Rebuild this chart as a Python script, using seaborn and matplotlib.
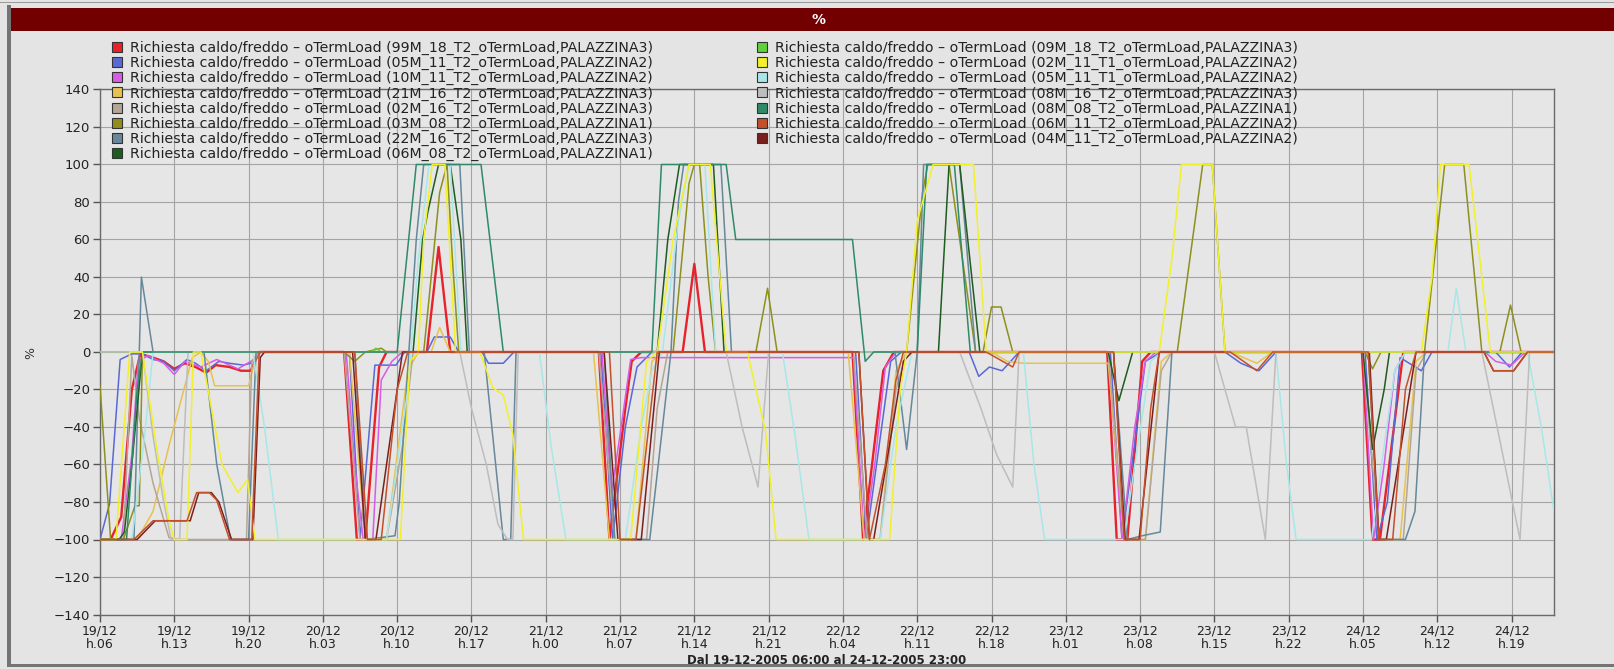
import numpy as np
import pandas as pd
import matplotlib
matplotlib.use("Agg")
import matplotlib.pyplot as plt
from matplotlib.patches import Rectangle, Patch
import seaborn as sns

W, H = 1614, 669

# ---- series (vertices: hours from 19-12-2005 06:00, value in %) ----
r99_h = [0, 1.0, 2.0, 3.0, 3.8, 5.0, 6.0, 7.0, 8.0, 9.0, 10.0, 10.9, 12.2, 13.3, 14.2, 15.0,
         23.0, 24.2, 25.0, 26.3, 27.0, 30.8, 31.9, 33.0, 47.0, 48.0, 49.5, 50.1, 51.0, 54.9, 56.0, 57.0,
         70.9, 71.9, 73.8, 74.8, 94.9, 95.8, 96.8, 98.2, 99.0, 118.9, 119.9, 120.6, 122.8, 137]
r99_v = [-100, -100, -88, -20, -1, -3, -5, -9, -6, -8, -11, -7, -8, -10, -10, 0,
         0, -100, -100, -8, 0, 0, 56, 0, 0, -100, -30, -5, 0, 0, 47, 0,
         0, -100, -10, 0, 0, -100, -100, -5, 0, 0, -100, -100, 0, 0]

b05_h = [0, 0.9, 1.9, 3.0, 4.0, 5.0, 6.0, 7.0, 8.2, 9.0, 10.0, 11.2, 12.2, 13.5, 14.2, 15.0,
         23.5, 24.5, 25.9, 27.9, 28.7, 30.8, 31.5, 33.0, 33.8, 36.0, 36.6, 38.0, 39.0,
         47.2, 48.3, 49.5, 50.6, 52.0, 71.2, 72.2, 74.5, 75.5, 81.9, 82.8, 83.8, 85.0, 86.6,
         95.2, 96.3, 98.5, 100.0, 106.0, 107.5, 109.2, 110.8, 119.2, 120.3, 121.3, 122.5,
         124.5, 125.5, 131.5, 132.8, 134.0, 137]
b05_v = [-100, -81, -4, -1, -1, -4, -5, -10, -4, -6, -10, -5, -6, -7, -6, 0,
         0, -100, -7, -7, 0, 0, 8, 8, 0, 0, -6, -6, 0,
         0, -100, -40, -8, 0, 0, -100, -5, 0, 0, -13, -8, -10, 0,
         0, -100, -5, 0, 0, -6, -10, 0, 0, -100, -80, -3,
         -10, 0, 0, -8, 0, 0]

m10_h = [0, 2.0, 3.0, 3.6, 4.5, 6.0, 7.0, 8.0, 9.5, 11.0, 13.0, 14.5, 15.2,
         23.2, 24.0, 24.8, 25.7, 26.5, 27.5, 28.5, 47.3, 48.2, 49.0, 50.0, 51.0, 71.0, 72.0,
         73.0, 74.0, 75.0, 95.0, 96.3, 97.5, 98.5, 99.5, 119.0, 120.0, 121.0, 122.0, 123.0,
         130.5, 131.5, 133.0, 134.3, 137]
m10_v = [-100, -100, -55, -5, -2, -6, -12, -5, -8, -4, -9, -4, 0,
         0, -60, -100, -100, -15, -5, 0, 0, -75, -44, -4, -3, -3, -100,
         -60, -8, 0, 0, -100, -40, -5, 0, 0, -100, -60, -10, 0,
         0, -5, -7, 0, 0]

g21_h = [0, 3.5, 5.0, 6.5, 8.7, 9.5, 10.2, 10.8, 14.0, 14.8, 23.5, 25.0, 27.0, 29.0, 30.0,
         31.2, 32.0, 33.0, 46.5, 48.0, 50.5, 52.0, 53.0, 70.5, 72.0, 73.5, 75.0, 76.0, 84.0,
         85.5, 87.0, 95.0, 96.5, 98.5, 100.0, 101.0, 106.5, 109.0, 110.5, 119.5, 120.5, 122.5,
         124.0, 125.0, 137]
g21_v = [-100, -100, -85, -50, -3, 0, -5, -18, -18, 0, 0, -100, -100, -10, 0,
         0, 13, 0, 0, -100, -100, -5, 0, 0, -100, -100, -10, 0, 0,
         -5, -6, -6, -100, -100, -5, 0, 0, -6, 0, 0, -100, -100,
         -5, 0, 0]

t02_h = [0, 2.2, 3.0, 3.7, 5.0, 6.5, 7.5, 13.8, 14.3, 15.0, 23.0, 24.5, 27.0, 28.5, 29.5,
         47.0, 48.5, 51.5, 52.5, 53.5, 71.0, 72.3, 73.5, 75.0, 76.0, 95.0, 96.5, 98.5, 100.0,
         101.0, 119.0, 120.5, 122.8, 124.0, 125.0, 137]
t02_v = [-100, -100, -2, -35, -70, -99, -100, -100, -5, 0, 0, -100, -100, -50, 0,
         0, -100, -100, -30, 0, 0, -100, -100, -20, 0, 0, -100, -100, -10,
         0, 0, -100, -100, -10, 0, 0]

o03_h = [0, 1.0, 2.2, 3.3, 3.7, 4.0, 23.0, 24.0, 25.0, 26.5, 27.0, 30.5, 32.0, 32.7, 33.2,
         33.8, 54.0, 55.5, 56.0, 56.5, 57.3, 58.0, 61.8, 62.9, 63.8, 76.0, 77.5, 78.0, 80.0,
         82.5, 83.2, 84.0, 84.9, 86.0, 101.5, 103.9, 104.8, 106.0, 119.2, 119.9, 120.7, 124.8,
         126.7, 128.5, 130.2, 131.9, 132.9, 133.9, 137]
o03_v = [-18, -100, -100, -82, -82, 0, 0, -5, 0, 2, 0, 0, 85, 100, 50,
         0, 0, 90, 100, 100, 40, 0, 0, 34, 0, 0, 85, 100, 100,
         0, 0, 24, 24, 0, 0, 100, 100, 0, 0, -9, 0, 0,
         100, 100, 0, 0, 25, 0, 0]

s22_h = [0, 3.2, 3.9, 5.0, 9.8, 11.0, 12.3, 14.0, 14.7, 24.0, 25.0, 27.8, 28.2, 29.1, 29.8,
         30.5, 33.9, 34.8, 36.2, 38.0, 38.7, 39.2, 47.5, 48.5, 51.8, 53.8, 54.5, 55.0, 58.5,
         59.5, 74.9, 76.0, 77.0, 77.6, 81.0, 82.5, 95.5, 96.8, 98.2, 99.9, 101.0, 119.5, 120.5,
         123.0, 123.9, 124.8, 137]
s22_v = [-100, -100, 40, 0, 0, -60, -100, -100, 0, 0, -100, -98, -80, 0, 60,
         100, 100, 0, 0, -100, -100, 0, 0, -100, -100, 0, 80, 100, 100,
         0, 0, -52, 0, 100, 100, 0, 0, -100, -98, -96, 0, 0, -100,
         -100, -85, 0, 0]

d06_h = [0, 1.8, 2.3, 3.0, 3.5, 4.0, 29.5, 30.4, 30.9, 31.9, 33.0, 34.0, 34.6, 52.5, 53.5,
         54.6, 57.8, 58.8, 79.0, 80.0, 81.0, 82.9, 95.0, 96.0, 97.3, 119.0, 119.9, 121.0,
         121.5, 137]
d06_v = [-100, -100, -96, -60, -30, 0, 0, 60, 75, 100, 100, 60, 0, 0, 60,
         100, 100, 0, 0, 100, 100, 0, 0, -26, 0, 0, -52, -20,
         0, 0]

l09_h = [0, 25.5, 26.0, 26.5, 137]
l09_v = [0, 0, 2, 0, 0]

y02_h = [0, 1.5, 2.8, 4.0, 5.3, 6.5, 7.0, 8.2, 8.8, 9.5, 10.5, 11.5, 13.0, 13.9, 14.6, 28.3,
         29.2, 30.0, 30.5, 31.3, 32.5, 33.5, 35.8, 37.0, 38.0, 38.9, 39.9, 50.0, 51.5, 52.5,
         54.0, 55.5, 57.5, 59.0, 61.0, 62.7, 63.7, 74.4, 75.4, 76.0, 77.0, 78.5, 82.3, 83.5,
         99.8, 101.0, 101.9, 104.8, 106.0, 124.5, 125.5, 126.3, 129.0, 131.0, 137]
y02_v = [-100, -100, 0, 0, -50, -90, -100, -100, 0, 0, -30, -60, -75, -68, -100, -100,
         -5, 0, 60, 100, 100, 0, 0, -19, -23, -44, -100, -100, -5, 0,
         60, 100, 100, 0, 0, -42, -100, -100, -20, 0, 70, 100, 100, 0,
         0, 50, 100, 100, 0, 0, 40, 100, 100, 0, 0]

c05_h = [0, 3.0, 4.2, 5.0, 14.4, 15.5, 16.8, 27.0, 29.0, 30.0, 31.0, 33.0, 34.0, 41.4, 42.5,
         43.9, 49.5, 51.0, 52.0, 53.0, 54.5, 55.5, 57.0, 58.0, 64.3, 65.5, 66.8, 73.5, 75.0,
         76.5, 87.0, 88.0, 89.0, 96.5, 97.5, 99.0, 100.0, 110.8, 111.8, 112.7, 119.8, 121.0,
         122.0, 123.0, 127.0, 127.8, 128.7, 134.5, 135.8, 137]
c05_v = [-100, -100, -45, 0, 0, -40, -100, -100, -20, 50, 100, 100, 0, 0, -50,
         -100, -100, -40, -10, 0, 70, 100, 100, 0, 0, -45, -100, -100, -40,
         0, 0, -60, -100, -100, -60, -5, 0, 0, -60, -100, -100, -50,
         -10, 0, 0, 34, 0, 0, -40, -85]

a08_h = [0, 4.0, 5.0, 6.0, 6.7, 7.5, 8.3, 33.9, 35.0, 36.4, 37.5, 38.4, 38.9, 39.4, 59.0,
         60.5, 62.0, 63.0, 81.0, 83.0, 84.5, 86.0, 86.6, 105.0, 107.0, 108.0, 109.8, 110.8,
         130.2, 132.0, 133.8, 134.7, 137]
a08_v = [0, 0, -45, -80, -100, -100, 0, 0, -30, -60, -92, -100, -100, 0, 0,
         -40, -72, 0, 0, -30, -55, -72, 0, 0, -40, -40, -100, 0,
         0, -50, -100, 0, 0]

e08_h = [0, 2.5, 3.5, 4.0, 28.0, 29.8, 35.9, 38.0, 52.0, 52.9, 59.0, 59.9, 70.9, 72.1, 72.9,
         77.0, 77.9, 80.5, 82.0, 137]
e08_v = [-100, -100, -20, 0, 0, 100, 100, 0, 0, 100, 100, 60, 60, -5, 0,
         0, 100, 100, 0, 0]

k06_h = [0, 3.2, 5.0, 8.2, 9.1, 10.3, 11.0, 12.2, 14.3, 15.0, 24.0, 25.2, 26.5, 28.0, 29.0,
         48.0, 49.0, 50.5, 51.5, 52.5, 71.5, 72.5, 74.0, 75.0, 75.7, 83.5, 86.0, 86.6, 95.5,
         96.5, 98.0, 99.0, 99.8, 106.5, 109.0, 110.5, 119.5, 120.5, 121.8, 123.0, 124.0,
         130.4, 131.3, 133.2, 134.5, 137]
k06_v = [-100, -100, -90, -90, -75, -75, -79, -100, -100, 0, 0, -100, -100, -20, 0,
         0, -100, -100, -50, 0, 0, -100, -60, -15, 0, 0, -8, 0, 0,
         -100, -100, -30, 0, 0, -10, 0, 0, -100, -100, -20, 0,
         0, -10, -10, 0, 0]

w04_h = [0, 3.5, 5.2, 8.5, 9.3, 10.5, 11.2, 12.4, 14.4, 15.1, 15.5, 23.8, 25.0, 26.0, 27.5,
         28.5, 47.5, 48.8, 51.0, 52.7, 71.5, 72.5, 72.9, 75.7, 76.5, 95.5, 96.6, 97.9, 99.8,
         119.6, 120.5, 121.2, 124.0, 130.4, 131.3, 133.2, 134.5, 137]
w04_v = [-100, -100, -90, -90, -75, -75, -80, -100, -100, -3, 0, 0, -100, -100, -40,
         0, 0, -100, -100, 0, 0, -100, -100, -5, 0, 0, -100, -100, 0,
         0, -100, -100, 0, 0, -10, -10, 0, 0]

prefix = "Richiesta caldo/freddo \u2013 oTermLoad "
codes = ["99M_18_T2", "05M_11_T2", "10M_11_T2", "21M_16_T2", "02M_16_T2", "03M_08_T2",
         "22M_16_T2", "06M_08_T2", "09M_18_T2", "02M_11_T1", "05M_11_T1", "08M_16_T2",
         "08M_08_T2", "06M_11_T2", "04M_11_T2"]
buildings = ["PALAZZINA3", "PALAZZINA2", "PALAZZINA2", "PALAZZINA3", "PALAZZINA3", "PALAZZINA1",
             "PALAZZINA3", "PALAZZINA1", "PALAZZINA3", "PALAZZINA2", "PALAZZINA2", "PALAZZINA3",
             "PALAZZINA1", "PALAZZINA2", "PALAZZINA2"]
colors = ["#e8212b", "#5a68d6", "#d65ce6", "#e6c24e", "#b4a696", "#8f8f1e", "#66889a",
          "#1f5c1f", "#5fd13a", "#f2f02a", "#a9e6e8", "#bdbdbd", "#2f8a68", "#c4502a", "#7c1e1e"]
hours = [r99_h, b05_h, m10_h, g21_h, t02_h, o03_h, s22_h, d06_h, l09_h, y02_h, c05_h, a08_h,
         e08_h, k06_h, w04_h]
values = [r99_v, b05_v, m10_v, g21_v, t02_v, o03_v, s22_v, d06_v, l09_v, y02_v, c05_v, a08_v,
          e08_v, k06_v, w04_v]

xtick_labels = ["19/12\nh.06", "19/12\nh.13", "19/12\nh.20", "20/12\nh.03", "20/12\nh.10",
                "20/12\nh.17", "21/12\nh.00", "21/12\nh.07", "21/12\nh.14", "21/12\nh.21",
                "22/12\nh.04", "22/12\nh.11", "22/12\nh.18", "23/12\nh.01", "23/12\nh.08",
                "23/12\nh.15", "23/12\nh.22", "24/12\nh.05", "24/12\nh.12", "24/12\nh.19"]

labels = [f"{prefix}({c}_oTermLoad,{b})" for c, b in zip(codes, buildings)]

rows = []
for lab, hh, vv in zip(labels, hours, values):
    for h, v in zip(hh, vv):
        rows.append((lab, h, v))
df = pd.DataFrame(rows, columns=["serie", "ora", "valore"])

sns.set_theme(style="whitegrid")
plt.rcParams['font.family'] = ['DejaVu Sans']

BG = "#e4e4e4"
fig = plt.figure(figsize=(W / 100, H / 100), dpi=100, facecolor=BG)
ax = fig.add_axes([100 / W, 1 - 614.5 / H, (1554 - 100) / W, (614.5 - 89.5) / H])
ax.set_facecolor("#e6e6e6")

# drawing order: legend order, with the yellow night blocks and the
# 06M_11 zero line kept on top
zorders = {9: 20, 13: 30}
palette = dict(zip(labels, colors))
for i, lab in enumerate(labels):
    sub = df[df["serie"] == lab]
    lw = 1.7 if i == 0 else 1.1
    sns.lineplot(data=sub, x="ora", y="valore", color=palette[lab], lw=lw, ax=ax,
                 estimator=None, sort=False, legend=False, zorder=zorders.get(i, 3 + i))

ax.set_xlim(0, 137)
ax.set_ylim(-140, 140)
ax.set_yticks(np.arange(-140, 141, 20))
ax.set_xticks(np.arange(0, 134, 7))
ax.set_xticklabels(xtick_labels, fontsize=9, color="#222222", linespacing=1.05)
ax.tick_params(axis="y", labelsize=9.5, labelcolor="#222222")
ax.tick_params(axis="both", direction="out", length=5, width=1.0, color="#555555",
               bottom=True, left=True, pad=2)
ax.grid(True, color="#a4a4a4", lw=0.8)
for s in ax.spines.values():
    s.set_color("#6a6a6a")
    s.set_linewidth(1.0)
ax.set_xlabel("Dal 19-12-2005 06:00 al 24-12-2005 23:00", fontsize=8.5, fontweight="bold",
              color="#222222", labelpad=2)
ax.set_ylabel("")
fig.text(31 / W, 1 - 353 / H, "%", rotation=90, fontsize=9, color="#333333",
         ha="center", va="center")

# header band and frame
fig.patches.append(Rectangle((0, 1 - 3 / H), 1, 1.2 / H, transform=fig.transFigure,
                             facecolor="#9a9a9a", edgecolor="none", zorder=0))
fig.patches.append(Rectangle((11 / W, 1 - 31 / H), 1, 23 / H, transform=fig.transFigure,
                             facecolor="#720000", edgecolor="none", zorder=0))
fig.patches.append(Rectangle((7 / W, 1 - 667 / H), 4 / W, 662 / H, transform=fig.transFigure,
                             facecolor="#747474", edgecolor="none", zorder=0))
fig.patches.append(Rectangle((7 / W, 1 - 667 / H), 1, 3 / H, transform=fig.transFigure,
                             facecolor="#747474", edgecolor="none", zorder=0))
fig.text(819 / W, 1 - 19.5 / H, "%", color="white", fontsize=10, fontweight="bold",
         ha="center", va="center")

# legend in two columns
handles = [Patch(facecolor=c, edgecolor="#333333", linewidth=0.8) for c in colors]
leg_kw = dict(frameon=False, fontsize=10.2, handlelength=0.72, handleheight=0.72,
              handletextpad=0.55, labelspacing=0.07, borderpad=0, borderaxespad=0)
leg1 = fig.legend(handles[:8], labels[:8], loc="upper left",
                  bbox_to_anchor=(112 / W, 1 - 41 / H), **leg_kw)
leg2 = fig.legend(handles[8:], labels[8:], loc="upper left",
                  bbox_to_anchor=(757 / W, 1 - 41 / H), **leg_kw)
for leg in (leg1, leg2):
    for t in leg.get_texts():
        t.set_color("#222222")

fig.savefig("out.png", dpi=100, facecolor=BG)
